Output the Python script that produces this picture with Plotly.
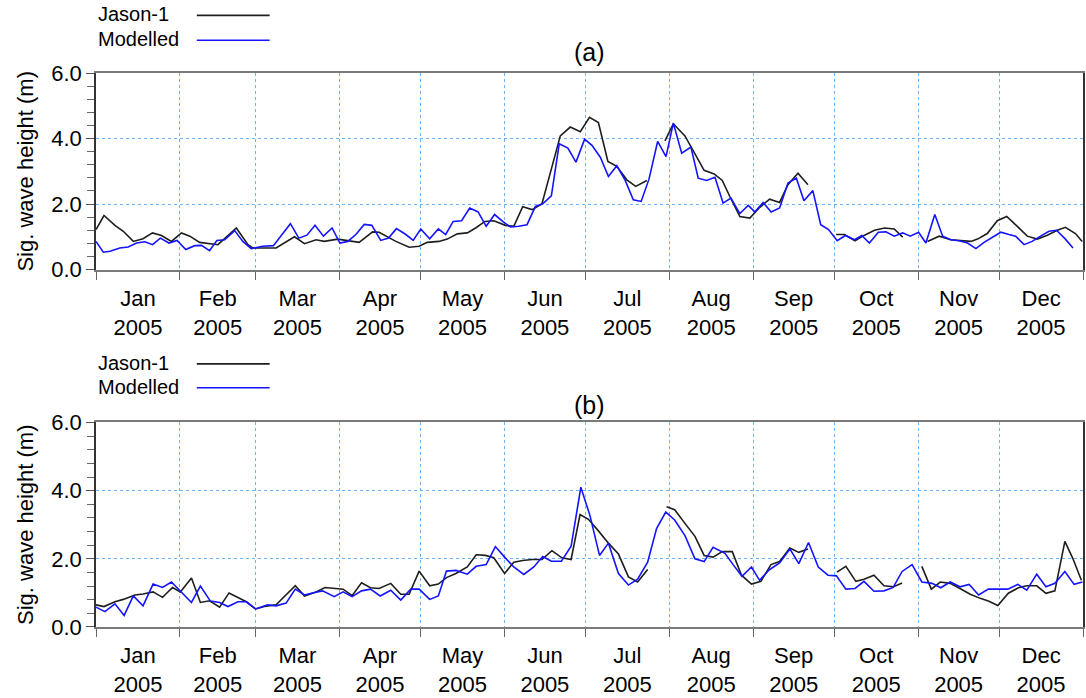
import plotly.graph_objects as go
import pandas as pd

FONT = "Liberation Sans, Arial, sans-serif"

# ---------------- data (day of year 2005, significant wave height in m) -------------
# Panel (a)
a_jason_day = [0, 2.95, 7.0, 10.1, 13.8, 17.4, 20.9, 24.2, 27.9, 31.6, 34.7, 38.3, 45.1, 51.9,
               56.2, 58.0, 66.6, 73.4, 77.1, 81.4, 84.4, 89.4, 97.3, 102.3, 104.7, 110.9, 115.8,
               119.5, 122.5, 126.8, 129.9, 133.6, 137.3, 140.4, 143.8, 147.1, 151.4, 154.5, 157.8,
               161.3, 164.9, 168.0, 171.7, 175.4, 179.1, 182.5, 185.8, 189.3, 192.6, 196.3, 199.6,
               203.7, 207.0, 210.4, 213.5, 217.8, 221.5, 224.9, 228.6, 231.6, 234.4, 238.1, 241.8,
               245.5, 249.1, 252.8, 255.9, 259.6, 263.3, 268.0, 273.7, 276.8, 280.7, 284.2, 287.9,
               291.6, 295.2, 298.3, 303.0, 307.5, 311.8, 316.1, 321.0, 323.5, 326.0, 329.6, 333.3,
               336.8, 340.7, 344.4, 348.1, 351.8, 355.5, 358.5, 362.2, 364.7]
a_jason_hs = [1.22, 1.65, 1.35, 1.17, 0.86, 0.94, 1.12, 1.04, 0.86, 1.12, 1.02, 0.83, 0.76, 1.27,
              0.76, 0.66, 0.66, 1.00, 0.79, 0.91, 0.86, 0.93, 0.83, 1.15, 1.14, 0.86, 0.68,
              0.71, 0.83, 0.86, 0.93, 1.09, 1.12, 1.27, 1.47, 1.49, 1.35, 1.32, 1.92,
              1.83, 2.00, 2.94, 4.08, 4.35, 4.21, 4.65, 4.49, 3.30, 3.15, 2.74, 2.54,
              2.72, None, 3.93, 4.45, 4.08, 3.55, 3.03, 2.92, 2.72, 2.23, 1.62, 1.57,
              1.90, 2.15, 2.05, 2.59, 2.94, 2.59, None, 1.07, 1.07, 0.88, 1.05, 1.20,
              1.27, 1.24, 0.99, None, 0.86, 1.02, 0.91, 0.88, 0.86, 0.93, 1.10, 1.49,
              1.62, 1.32, 1.02, 0.93, 1.05, 1.20, 1.29, 1.10, 0.86]

a_model_day = [0, 2.7, 5.2, 8.8, 11.9, 15.0, 18.1, 20.9, 23.8, 27.0, 30.0, 33.2, 36.5, 39.0, 42.0,
               44.7, 47.6, 51.3, 54.3, 57.4, 61.7, 65.6, 68.8, 71.9, 75.0, 78.0, 81.0, 84.1, 87.3,
               90.2, 93.1, 96.1, 99.2, 102.0, 105.3, 108.2, 111.1, 114.6, 117.3, 120.1, 123.4,
               126.6, 129.3, 132.1, 135.2, 138.2, 141.3, 144.3, 147.4, 150.4, 153.3, 156.3, 159.4,
               162.5, 165.2, 168.4, 171.3, 174.5, 177.5, 180.7, 183.4, 186.5, 189.5, 192.6, 195.7,
               198.7, 201.6, 204.5, 207.7, 210.8, 213.5, 216.6, 220.0, 222.7, 225.8, 228.9, 231.9,
               234.8, 238.1, 241.2, 243.6, 246.7, 249.7, 252.8, 255.9, 259.0, 261.8, 265.1, 268.0,
               270.9, 274.1, 277.1, 280.5, 283.2, 286.0, 289.3, 292.1, 295.2, 298.3, 301.1, 304.2,
               306.9, 310.2, 313.1, 316.1, 319.2, 322.3, 325.4, 328.4, 331.5, 334.6, 337.6, 340.1,
               343.2, 346.2, 349.3, 352.4, 355.2, 358.5, 361.3]
a_model_hs = [0.86, 0.53, 0.56, 0.66, 0.69, 0.81, 0.85, 0.76, 0.96, 0.81, 0.89, 0.61, 0.73, 0.74, 0.58,
              0.89, 0.91, 1.19, 0.86, 0.64, 0.71, 0.73, 1.07, 1.40, 0.96, 1.05, 1.35, 1.02, 1.27,
              0.81, 0.86, 1.07, 1.38, 1.35, 0.89, 0.96, 1.25, 1.07, 0.89, 1.24, 0.94,
              1.24, 1.07, 1.47, 1.49, 1.88, 1.76, 1.32, 1.68, 1.47, 1.30, 1.32, 1.37,
              1.93, 2.01, 2.25, 3.84, 3.71, 3.28, 3.98, 3.79, 3.43, 2.84, 3.17, 2.72,
              2.13, 2.08, 2.76, 3.91, 3.45, 4.47, 3.55, 3.74, 2.79, 2.72, 2.82, 2.03,
              2.18, 1.71, 1.96, 1.76, 2.05, 1.76, 1.88, 2.64, 2.79, 2.10, 2.41, 1.37,
              1.22, 0.88, 1.04, 0.91, 1.04, 0.81, 1.14, 1.15, 1.02, 1.12, 1.02, 1.14,
              0.81, 1.68, 1.02, 0.91, 0.88, 0.81, 0.64, 0.83, 0.99, 1.14, 1.07, 1.02,
              0.76, 0.86, 1.02, 1.17, 1.20, 0.93, 0.66]

# Panel (b)
b_jason_day = [0, 2.95, 7.0, 10.1, 14.4, 17.4, 21.1, 24.6, 28.3, 31.2, 35.3, 38.6, 42.0, 45.7, 49.2,
               52.5, 55.6, 59.0, 62.3, 66.6, 70.3, 73.7, 77.1, 81.4, 84.7, 88.1, 91.4, 94.7, 98.2,
               101.5, 104.7, 109.0, 112.7, 115.8, 119.5, 123.4, 126.6, 129.6, 133.1, 137.3, 140.6,
               144.0, 147.1, 151.1, 154.5, 157.8, 161.3, 164.9, 168.6, 172.3, 175.7, 179.0, 182.1,
               185.8, 189.5, 193.2, 196.9, 200.3, 204.0, 207.5, 211.0, 214.0, 217.8, 221.5, 224.9,
               228.2, 231.6, 235.3, 238.7, 242.4, 245.9, 249.6, 252.8, 256.6, 259.9, 263.3, 268.0,
               274.0, 277.3, 281.0, 284.0, 287.7, 291.4, 295.0, 298.1, 302.0, 305.4, 308.9, 312.2,
               315.9, 319.5, 323.3, 327.0, 330.0, 333.5, 337.4, 341.1, 344.2, 347.9, 351.3, 354.6,
               358.3, 361.3, 364.4]
b_jason_hs = [0.65, 0.60, 0.74, 0.81, 0.94, 0.97, 1.03, 0.87, 1.16, 1.03, 1.44, 0.72, 0.77, 0.58, 1.00,
              0.86, 0.74, 0.53, 0.60, 0.65, 0.94, 1.21, 0.91, 1.03, 1.16, 1.13, 1.11, 0.92, 1.30,
              1.15, 1.13, 1.28, 0.96, 0.96, 1.64, 1.21, 1.26, 1.45, 1.57, 1.76, 2.12,
              2.10, 2.03, 1.57, 1.90, 1.95, 1.98, 1.98, 2.24, 2.03, 1.98, 3.30, 3.16,
              2.82, 2.46, 2.14, 1.47, 1.32, 1.69, None, 3.53, 3.44, 3.04, 2.66, 2.10,
              2.05, 2.21, 2.21, 1.52, 1.26, 1.34, 1.83, 1.92, 2.32, 2.19, 2.29, None,
              1.61, 1.78, 1.34, 1.40, 1.52, 1.21, 1.18, 1.29, None, 1.78, 1.11, 1.32,
              1.28, 1.13, 0.96, 0.84, 0.76, 0.63, 0.99, 1.15, 1.21, 1.21, 0.99, 1.06,
              2.51, 2.00, 1.37]

b_model_day = [0, 3.3, 7.0, 10.4, 13.8, 17.4, 21.1, 24.6, 27.9, 31.6, 35.3, 38.6, 42.3, 45.7, 48.8,
               52.5, 55.6, 59.0, 63.5, 66.6, 70.3, 73.7, 77.1, 80.8, 83.8, 88.1, 91.4, 94.7, 98.2,
               101.5, 105.1, 109.0, 112.7, 116.4, 119.5, 123.4, 126.6, 129.6, 133.1, 137.3, 140.6,
               144.3, 147.7, 151.1, 154.5, 158.2, 161.9, 165.2, 168.4, 172.1, 175.7, 179.3, 182.7,
               186.2, 189.5, 193.2, 196.9, 200.3, 204.0, 207.3, 210.7, 214.0, 217.8, 221.5, 224.9,
               228.2, 232.6, 235.6, 238.9, 242.4, 245.4, 249.0, 252.8, 256.6, 259.9, 263.5, 267.1,
               270.7, 273.8, 277.3, 280.7, 284.0, 287.7, 291.4, 294.8, 298.1, 301.8, 305.4, 309.2,
               312.4, 315.9, 319.5, 322.9, 326.4, 330.0, 333.5, 337.2, 340.9, 344.2, 347.9, 351.3,
               354.6, 358.3, 361.7, 364.8]
b_model_hs = [0.58, 0.45, 0.68, 0.34, 0.91, 0.62, 1.26, 1.16, 1.32, 1.01, 0.72, 1.20, 0.76, 0.72, 0.60,
              0.74, 0.74, 0.53, 0.65, 0.62, 0.70, 1.11, 0.94, 1.01, 1.06, 0.89, 1.03, 0.89, 1.06,
              1.11, 0.91, 1.08, 0.79, 1.11, 1.11, 0.81, 0.91, 1.64, 1.66, 1.55, 1.78,
              1.83, 2.36, 2.05, 1.76, 1.54, 1.76, 2.07, 1.93, 1.93, 2.37, 4.10, 3.26,
              2.10, 2.46, 1.57, 1.23, 1.40, 1.90, 2.89, 3.37, 3.14, 2.68, 2.00, 1.92,
              2.34, 2.16, 1.83, 1.49, 1.76, 1.37, 1.68, 1.88, 2.29, 1.86, 2.48, 1.76,
              1.52, 1.50, 1.11, 1.13, 1.34, 1.05, 1.06, 1.16, 1.63, 1.83, 1.32, 1.28,
              1.15, 1.32, 1.18, 1.25, 0.94, 1.11, 1.11, 1.11, 1.25, 1.08, 1.55, 1.18,
              1.28, 1.63, 1.25, 1.32]

series_names = ["Jason-1", "Modelled"]
panel_titles = ["(a)", "(b)"]
y_title = "Sig. wave height (m)"

BASE = pd.Timestamp("2005-01-01")


def to_dates(days):
    return [BASE + pd.Timedelta(days=d) for d in days]


JASON_COLOR = "#1e1e1e"
MODEL_COLOR = "#1414ff"
GRID_COLOR = "#6cb4f2"

fig = go.Figure()
panels = [
    (a_jason_day, a_jason_hs, a_model_day, a_model_hs, "x", "y"),
    (b_jason_day, b_jason_hs, b_model_day, b_model_hs, "x2", "y2"),
]
for jd, jh, md, mh, xa, ya in panels:
    fig.add_trace(go.Scatter(x=to_dates(jd), y=jh, mode="lines", name=series_names[0],
                             line=dict(color=JASON_COLOR, width=1.6), xaxis=xa, yaxis=ya,
                             showlegend=False))
    fig.add_trace(go.Scatter(x=to_dates(md), y=mh, mode="lines", name=series_names[1],
                             line=dict(color=MODEL_COLOR, width=1.6), xaxis=xa, yaxis=ya,
                             showlegend=False))

W, H = 1086, 698
ML, MR, MT, MB = 96, 1, 73, 67
PH = H - MT - MB
PW = W - ML - MR


def py(ypx):
    return (H - MB - ypx) / PH


def px(xpx):
    return (xpx - ML) / PW


xcommon = dict(type="date", range=["2005-01-01", "2006-01-01"], dtick="M1", tick0="2005-01-01",
               tickformat="%b<br>%Y", ticklabelmode="period", ticks="outside", ticklen=8,
               tickcolor="#666666", tickwidth=1, showgrid=True, gridcolor=GRID_COLOR,
               griddash="dot", gridwidth=1, showline=True, linecolor="#7a7a7a", linewidth=2,
               mirror=True, tickfont=dict(family=FONT, size=22, color="black"), zeroline=False)
ycommon = dict(range=[0, 6], dtick=2, tick0=0, tickformat=".1f", ticks="outside", ticklen=8,
               tickcolor="#555555", showgrid=True, gridcolor=GRID_COLOR, griddash="dot",
               gridwidth=1, showline=True, linecolor="#333333", linewidth=1.5, mirror=True,
               zeroline=False, tickfont=dict(family=FONT, size=22, color="black"),
               minor=dict(dtick=0.4, tick0=0, ticks="outside", ticklen=7, tickcolor="#666666",
                          showgrid=False),
               title=dict(text=y_title, font=dict(family=FONT, size=22, color="black"),
                          standoff=12))

fig.update_layout(
    width=W, height=H, margin=dict(l=ML, r=MR, t=MT, b=MB),
    paper_bgcolor="white", plot_bgcolor="white", showlegend=False,
    xaxis=dict(xcommon, anchor="y"),
    yaxis=dict(ycommon, domain=[py(271), 1.0], anchor="x"),
    xaxis2=dict(xcommon, anchor="y2"),
    yaxis2=dict(ycommon, domain=[0.0, py(425)], anchor="x2"),
    font=dict(family=FONT, color="black"),
)

annotations = []
shapes = []
legend_rows = [(14, 39, 52, 0), (365, 389, 407, 1)]
for y1, y2, yt, k in legend_rows:
    for ypx, name, col in [(y1, series_names[0], JASON_COLOR), (y2, series_names[1], MODEL_COLOR)]:
        annotations.append(dict(text=name, x=px(96), y=py(ypx), xref="paper", yref="paper",
                                xanchor="left", yanchor="middle", showarrow=False,
                                font=dict(family=FONT, size=20, color="black")))
        shapes.append(dict(type="line", xref="paper", yref="paper", x0=px(197), x1=px(270),
                           y0=py(ypx + 1), y1=py(ypx + 1), line=dict(color=col, width=1.6)))
    annotations.append(dict(text=panel_titles[k], x=0.5, y=py(yt), xref="paper", yref="paper",
                            xanchor="center", yanchor="middle", showarrow=False,
                            font=dict(family=FONT, size=25, color="black")))

fig.update_layout(annotations=annotations, shapes=shapes)
fig.write_html("out.html")
